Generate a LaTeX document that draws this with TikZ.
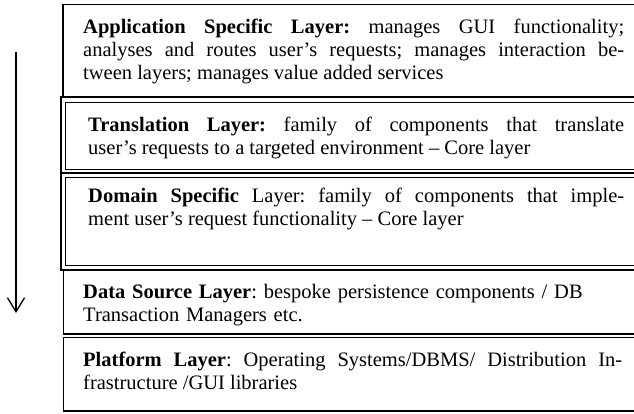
\documentclass[tikz,border=0pt]{standalone}
\usepackage{fontspec}
\setmainfont{Liberation Serif}
\usetikzlibrary{arrows.meta}
\begin{document}
\frenchspacing
\begin{tikzpicture}[x=1pt,y=-1pt,
  frame/.style={draw=black,line width=1.3pt},
  outerframe/.style={draw=black,line width=2.2pt},
  innerframe/.style={draw=black,line width=1pt},
  layertext/.style={anchor=north west,inner sep=0pt,align=justify,
    font=\fontsize{20.5}{23}\selectfont\frenchspacing},
  flow/.style={line width=1.3pt,-{Straight Barb[length=14pt,width=17pt,line width=1.3pt]}},
]
\useasboundingbox (0,0) rectangle (634,413);
\fill[white] (0,0) rectangle (634,413);
\clip (0,0) rectangle (634,413);

% layer frames (they run past the right edge)
\draw[frame] (63,4.5) rectangle (700,97);
\draw[outerframe] (61,97) rectangle (700,173);
\draw[innerframe] (65.5,102) rectangle (700,169);
\draw[outerframe] (61,173) rectangle (700,270);
\draw[innerframe] (65.5,177) rectangle (700,265);
\draw[frame] (63.5,270) rectangle (700,334);
\draw[frame] (63.5,337.5) rectangle (700,411);

% layer descriptions
\node[layertext,text width=541pt] (app) at (83,16.9)
  {\strut\textbf{Application Specific Layer:} manages GUI functionality;\linebreak
   analyses and routes user's requests; manages interaction be-\linebreak
   tween layers; manages value added services};
\node[layertext,text width=536pt] (trans) at (88,114.9)
  {\strut\textbf{Translation Layer:} family of components that translate\linebreak
   user's requests to a targeted environment -- Core layer};
\node[layertext,text width=536pt] (dom) at (88,185.9)
  {\strut\textbf{Domain Specific} Layer: family of components that imple-\linebreak
   ment user's request functionality -- Core layer};
\node[layertext,align=left,text width=541pt] (data) at (83,281.9)
  {\strut\textbf{Data Source Layer}: bespoke persistence components / DB\\
   Transaction Managers etc.};
\node[layertext,text width=539pt] (plat) at (83,349.9)
  {\strut\textbf{Platform Layer}: Operating Systems/DBMS/ Distribution In-\linebreak
   frastructure /GUI libraries};

% downward flow arrow
\coordinate (flowtop) at (16,52);
\coordinate (flowend) at (16,313);
\draw[flow] (flowtop) -- (flowend);
\end{tikzpicture}
\end{document}
